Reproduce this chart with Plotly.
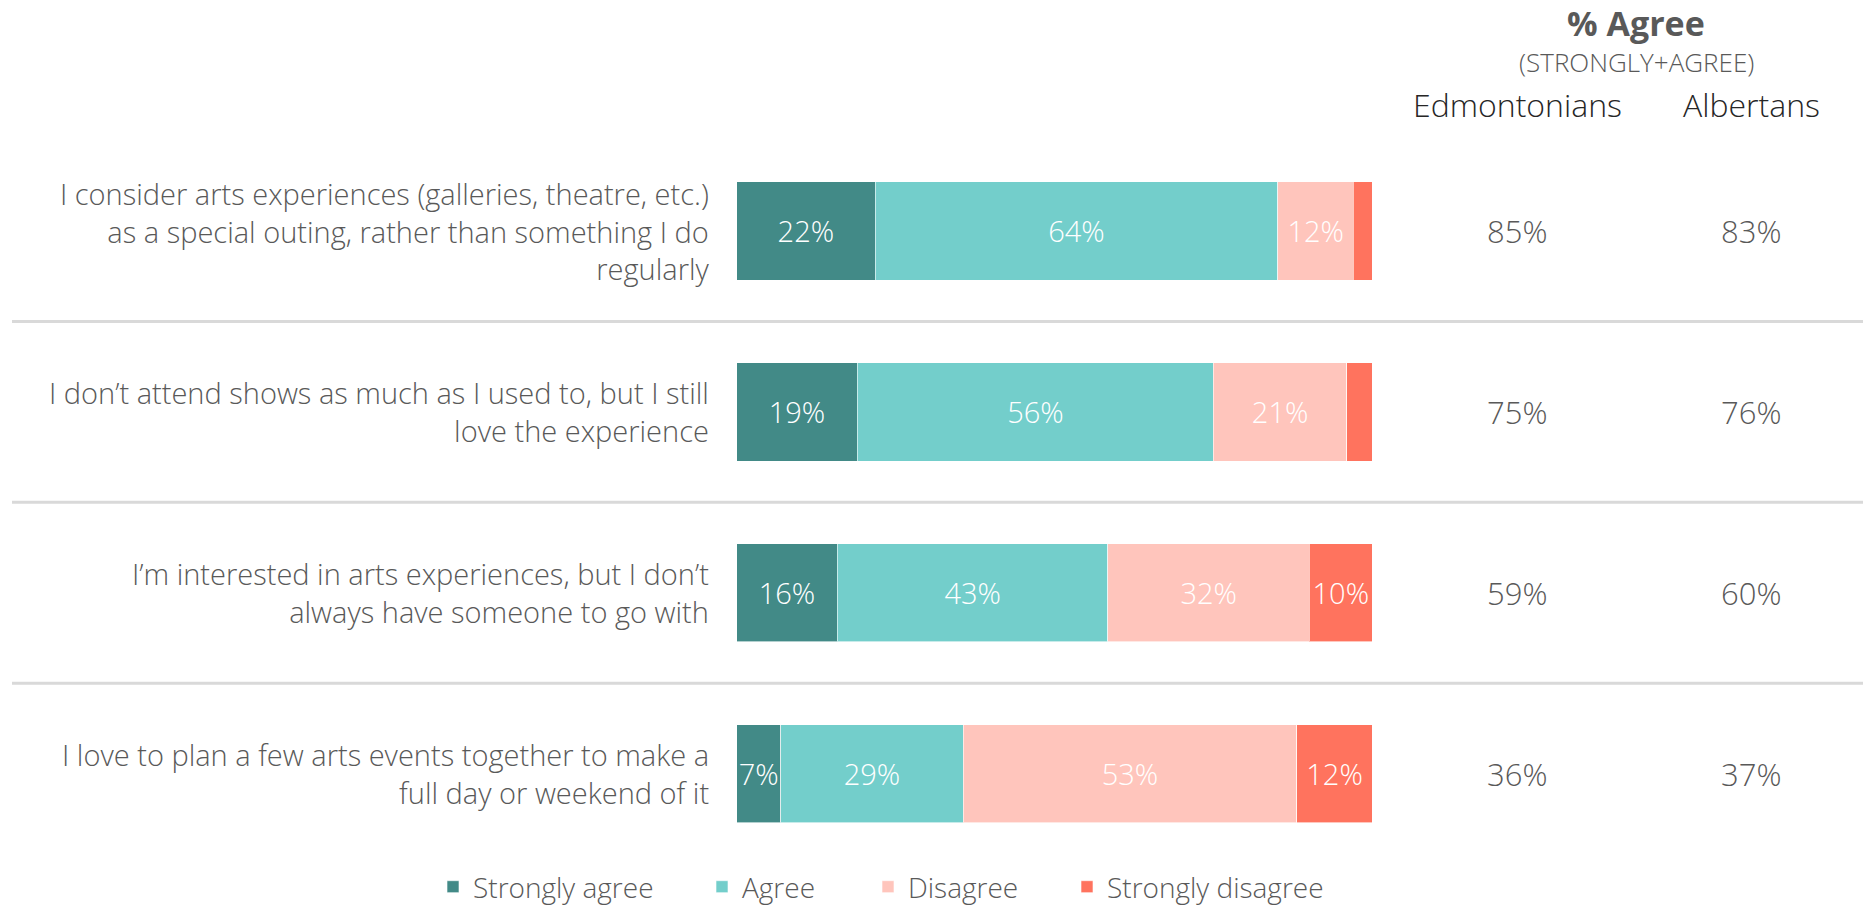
import plotly.graph_objects as go

# Survey statements (line breaks as they appear beside each bar)
statements = [
    "I consider arts experiences (galleries, theatre, etc.)<br>as a special outing, rather than something I do<br>regularly",
    "I don’t attend shows as much as I used to, but I still<br>love the experience",
    "I’m interested in arts experiences, but I don’t<br>always have someone to go with",
    "I love to plan a few arts events together to make a<br>full day or weekend of it",
]

# Response shares (%) per statement
strongly_agree = [22, 19, 16, 7]
agree = [64, 56, 43, 29]
disagree = [12, 21, 32, 53]
strongly_disagree = [3, 4, 10, 12]

# % agree (strongly + agree) by population
edmontonians = [85, 75, 59, 36]
albertans = [83, 76, 60, 37]

series_names = ["Strongly agree", "Agree", "Disagree", "Strongly disagree"]
series_values = [strongly_agree, agree, disagree, strongly_disagree]
series_colors = ["#428A87", "#73CECB", "#FFC5BC", "#FF735E"]

FONT = "'Open Sans', Lato, sans-serif"
GREY = "#595959"
MIN_LABEL = 5  # segments narrower than this stay unlabelled

W, H = 1863, 912
y_domain = [0.0462, 0.8449]
x_domain = [0.3954, 0.7366]
legend_x = [447, 716, 882, 1081]

fig = go.Figure()
for i, (name, vals, color) in enumerate(zip(series_names, series_values, series_colors)):
    fig.add_trace(go.Bar(
        y=statements,
        x=vals,
        name=name,
        orientation="h",
        marker=dict(color=color, line=dict(color="rgba(255,255,255,0.6)", width=1)),
        text=[f"{v}%" if v >= MIN_LABEL else "" for v in vals],
        textposition="inside",
        insidetextanchor="middle",
        textangle=0,
        constraintext="none",
        textfont=dict(family=FONT, size=29, color="white", weight=300),
        hoverinfo="skip",
        legend="legend" if i == 0 else f"legend{i + 1}",
    ))

annotations = []
# statement labels, right-aligned next to the bars
for s in statements:
    annotations.append(dict(
        x=711 / W, xref="paper", y=s, yref="y",
        text=s, showarrow=False, xanchor="right", yanchor="middle", align="right",
        font=dict(family=FONT, size=29, color=GREY, weight=300),
    ))
# % agree columns
for s, e, a in zip(statements, edmontonians, albertans):
    for xpx, v in ((1517, e), (1751, a)):
        annotations.append(dict(
            x=xpx / W, xref="paper", y=s, yref="y",
            text=f"{v}%", showarrow=False, xanchor="center", yanchor="middle",
            font=dict(family=FONT, size=31, color=GREY, weight=300),
        ))
# column header
annotations += [
    dict(x=1636 / W, y=1.0, xref="paper", yref="paper", text="<b>% Agree</b>",
         showarrow=False, xanchor="center", yanchor="top", yshift=2,
         font=dict(family=FONT, size=34, color=GREY)),
    dict(x=1636 / W, y=1 - 62 / H, xref="paper", yref="paper", text="(STRONGLY+AGREE)",
         showarrow=False, xanchor="center", yanchor="middle",
         font=dict(family=FONT, size=26, color=GREY, weight=300)),
    dict(x=1517 / W, y=1 - 105 / H, xref="paper", yref="paper", text="Edmontonians",
         showarrow=False, xanchor="center", yanchor="middle",
         font=dict(family=FONT, size=32, color="#262626", weight=300)),
    dict(x=1751 / W, y=1 - 105 / H, xref="paper", yref="paper", text="Albertans",
         showarrow=False, xanchor="center", yanchor="middle",
         font=dict(family=FONT, size=32, color="#262626", weight=300)),
]

# row separators
shapes = []
for k in (0.5, 1.5, 2.5):
    shapes.append(dict(type="line", xref="paper", yref="y", x0=12 / W, x1=1.0,
                       y0=k, y1=k, line=dict(color="#D9D9D9", width=3)))

legend_common = dict(orientation="h", xanchor="left", yanchor="middle",
                     bgcolor="rgba(0,0,0,0)", itemclick=False, itemdoubleclick=False,
                     font=dict(family=FONT, size=28, color=GREY, weight=300))
legends = {}
for i, xpx in enumerate(legend_x):
    key = "legend" if i == 0 else f"legend{i + 1}"
    legends[key] = dict(legend_common, x=(xpx - 14) / W, y=(H - 893) / H)

fig.update_layout(
    width=W, height=H,
    margin=dict(l=0, r=0, t=0, b=0),
    paper_bgcolor="white", plot_bgcolor="white",
    barmode="stack", barnorm="percent", bargap=0.4566,
    xaxis=dict(domain=x_domain, range=[0, 100], visible=False, fixedrange=True),
    yaxis=dict(domain=y_domain, range=[3.5, -0.5], type="category",
               visible=False, fixedrange=True),
    annotations=annotations,
    shapes=shapes,
    showlegend=True,
    **legends,
)

fig.write_html("out.html", config={"displayModeBar": False})
